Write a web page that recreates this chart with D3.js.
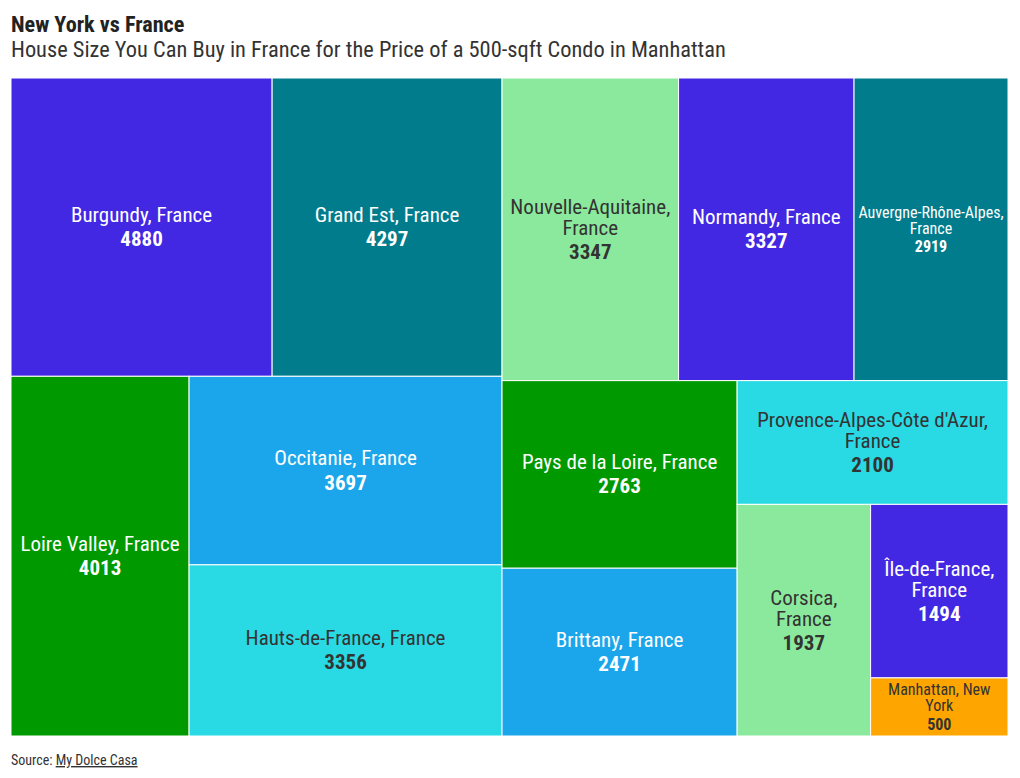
<!DOCTYPE html>
<html>
<head>
<meta charset="utf-8">
<script src="https://cdn.jsdelivr.net/npm/d3@7"></script>
<style>
  html, body { margin: 0; padding: 0; background: #fff; }
  svg text { font-family: "Roboto Condensed", "Roboto", sans-serif; font-stretch: condensed; }
</style>
</head>
<body>
<svg id="chart" width="1020" height="778"></svg>
<script>
const categories = [
  "Burgundy, France", "Grand Est, France", "Loire Valley, France", "Occitanie, France",
  "Hauts-de-France, France", "Nouvelle-Aquitaine, France", "Normandy, France",
  "Auvergne-Rhône-Alpes, France", "Pays de la Loire, France", "Brittany, France",
  "Provence-Alpes-Côte d'Azur, France", "Corsica, France", "Île-de-France, France",
  "Manhattan, New York"
];
const values = [4880, 4297, 4013, 3697, 3356, 3347, 3327, 2919, 2763, 2471, 2100, 1937, 1494, 500];
const colors = [
  "#4328e3", "#007c8c", "#009a00", "#1ba6ec", "#29d9e3", "#8be99d", "#4328e3",
  "#007c8c", "#009a00", "#1ba6ec", "#29d9e3", "#8be99d", "#4328e3", "#ffa500"
];
const titleText = "New York vs France";
const subtitleText = "House Size You Can Buy in France for the Price of a 500-sqft Condo in Manhattan";
const sourceLabel = "Source: ";
const sourceName = "My Dolce Casa";

const svg = d3.select("#chart");
const W = 1020, H = 778;
const m = { left: 11, top: 78, right: 12, bottom: 42 };
const iw = W - m.left - m.right, ih = H - m.top - m.bottom;

svg.append("text").attr("x", 11).attr("y", 32)
  .attr("font-size", 22.2).attr("font-weight", 700).attr("fill", "#222").text(titleText);
svg.append("text").attr("x", 11).attr("y", 57)
  .attr("font-size", 22.4).attr("font-weight", 400).attr("fill", "#333").text(subtitleText);

const data = categories.map((c, i) => ({ name: c, value: values[i], color: colors[i] }));
const root = d3.hierarchy({ children: data }).sum(d => d.value || 0)
  .sort((a, b) => b.value - a.value);
d3.treemap().tile(d3.treemapBinary).size([iw, ih]).round(false)(root);

const g = svg.append("g").attr("transform", `translate(${m.left},${m.top})`);
const leaf = g.selectAll("g.leaf").data(root.leaves()).join("g").attr("class", "leaf")
  .attr("transform", d => `translate(${d.x0},${d.y0})`);

leaf.append("rect")
  .attr("width", d => d.x1 - d.x0).attr("height", d => d.y1 - d.y0)
  .attr("fill", d => d.data.color).attr("stroke", "#fff").attr("stroke-width", 1);

function isLight(hex) {
  const c = d3.rgb(hex);
  return (0.299 * c.r + 0.587 * c.g + 0.114 * c.b) > 150;
}

const measurer = svg.append("text").attr("visibility", "hidden");
function tw(str, size, weight) {
  measurer.attr("font-size", size).attr("font-weight", weight).text(str);
  return measurer.node().getComputedTextLength();
}
function wrap(name, fs, avail) {
  const words = name.split(" ");
  const lines = [];
  let cur = "";
  words.forEach(wd => {
    const test = cur ? cur + " " + wd : wd;
    if (!cur || tw(test, fs, 400) <= avail) cur = test;
    else { lines.push(cur); cur = wd; }
  });
  if (cur) lines.push(cur);
  return lines;
}

leaf.each(function (d) {
  const w = d.x1 - d.x0, h = d.y1 - d.y0;
  const avail = w - 8;
  let fs = 21, lines;
  while (fs > 8) {
    lines = wrap(d.data.name, fs, avail);
    const maxW = d3.max(lines, l => tw(l, fs, 400));
    const totalH = (lines.length - 1) * fs + 1.15 * fs + fs;
    if (maxW <= avail && totalH <= h - 6) break;
    fs -= 1;
  }
  const lh = fs, vg = 1.15 * fs;
  const blockH = (lines.length - 1) * lh + vg;
  const cx = w / 2, startY = h / 2 - blockH / 2;
  const fill = isLight(d.data.color) ? "#333" : "#fff";
  const sel = d3.select(this);
  lines.forEach((l, i) => {
    sel.append("text").attr("text-anchor", "middle").attr("fill", fill)
      .attr("font-size", fs).attr("dominant-baseline", "central")
      .attr("x", cx).attr("y", startY + i * lh).text(l);
  });
  sel.append("text").attr("text-anchor", "middle").attr("fill", fill)
    .attr("font-size", fs).attr("font-weight", 700).attr("dominant-baseline", "central")
    .attr("x", cx).attr("y", startY + (lines.length - 1) * lh + vg).text(d.data.value);
});
measurer.remove();

const src = svg.append("text").attr("x", 11).attr("y", 765)
  .attr("font-size", 14).attr("fill", "#333");
src.append("tspan").text(sourceLabel);
src.append("tspan").attr("text-decoration", "underline").text(sourceName);
</script>
</body>
</html>
